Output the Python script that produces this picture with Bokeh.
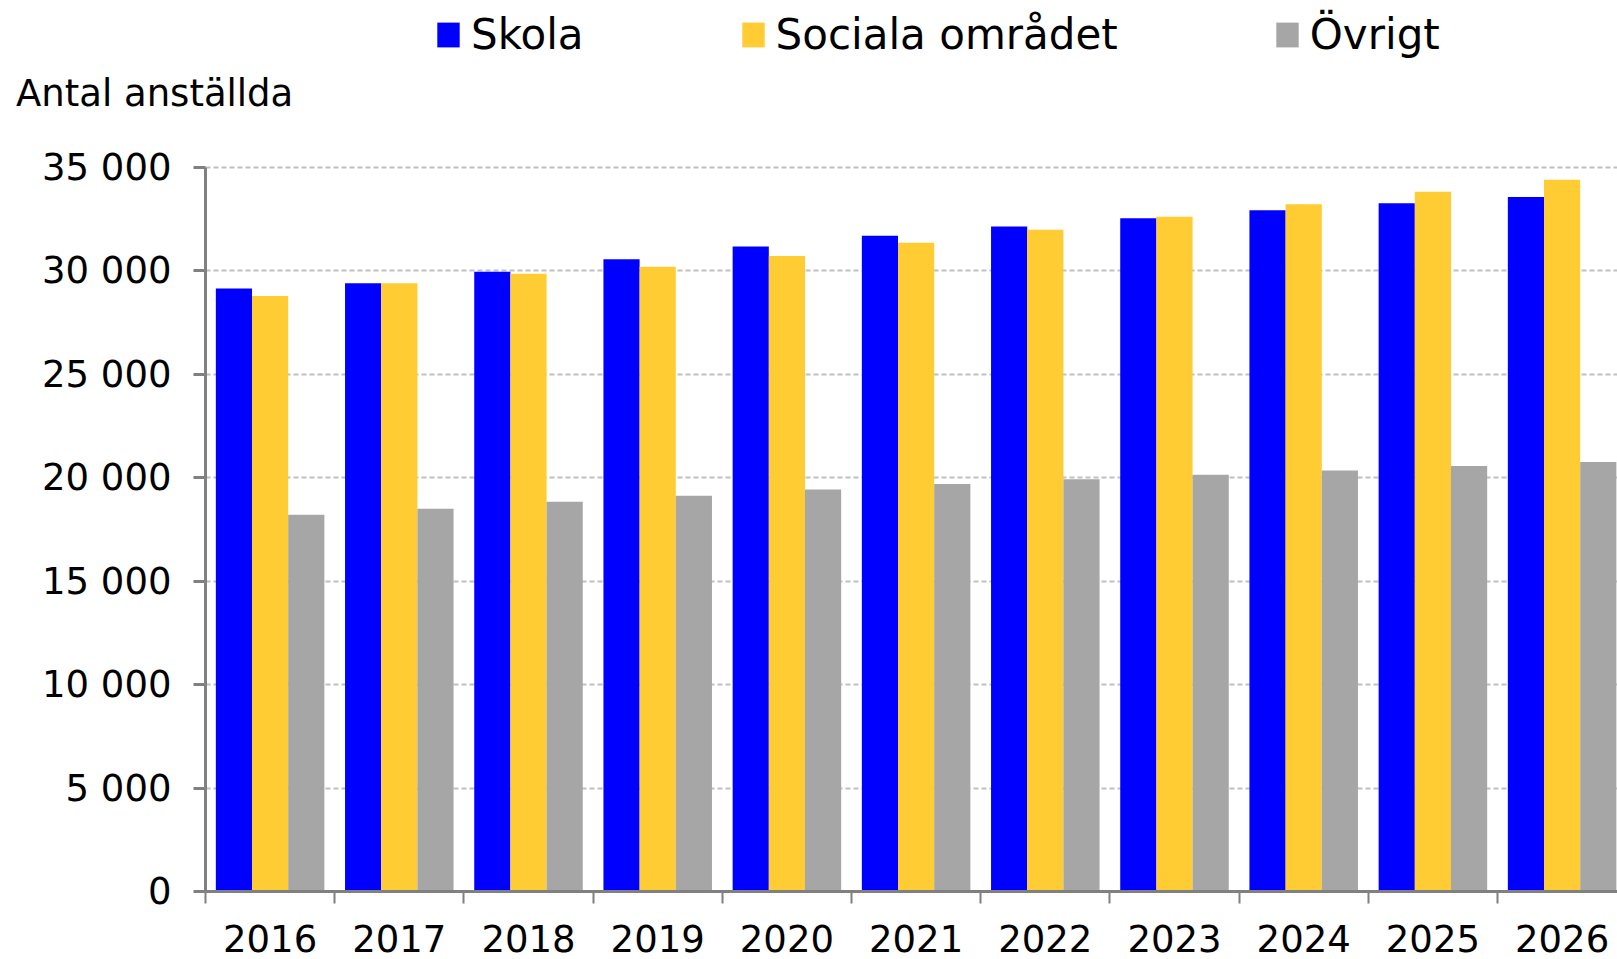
from bokeh.plotting import figure
from bokeh.models import (ColumnDataSource, Range1d, FixedTicker, Legend, LegendItem)
from bokeh.transform import dodge
from bokeh.layouts import column
from bokeh.core.properties import value
from bokeh.embed import file_html
from bokeh.resources import INLINE

years = ["2016", "2017", "2018", "2019", "2020", "2021", "2022", "2023", "2024", "2025", "2026"]
skola = [29150, 29400, 29950, 30560, 31180, 31700, 32140, 32540, 32930, 33270, 33570]
sociala = [28780, 29400, 29860, 30190, 30720, 31350, 31980, 32610, 33220, 33820, 34400]
ovrigt = [18210, 18500, 18840, 19130, 19430, 19690, 19920, 20140, 20350, 20570, 20760]
series_names = ["Skola", "Sociala området", "Övrigt"]
colors = ["#0000FF", "#FFCC33", "#A6A6A6"]
y_ticks = [0, 5000, 10000, 15000, 20000, 25000, 30000, 35000]
y_tick_labels = ["0", "5 000", "10 000", "15 000", "20 000", "25 000", "30 000", "35 000"]
y_title = "Antal anställda"

FONT = "DejaVu Sans"
W, H = 1617, 959
HEAD_H = 130
MAIN_H = H - HEAD_H
left_border, bottom_border = 205, 68
px_per_cat = 129.2
px_per_1000 = 20.69
frame_w = W - left_border
frame_h = MAIN_H - bottom_border
x_end = frame_w / px_per_cat
y_end = frame_h / px_per_1000 * 1000

# ---------------- header: legend + y-axis title ----------------
head = figure(width=W, height=HEAD_H, output_backend="svg", toolbar_location=None,
              x_range=Range1d(0, W), y_range=Range1d(0, HEAD_H),
              x_axis_type=None, y_axis_type=None, title=None,
              min_border=0)
head.outline_line_color = None
head.xgrid.visible = False
head.ygrid.visible = False

# legend swatch renderers (kept outside the visible range)
swatches = []
for col in colors:
    swatches.append(head.vbar(x=[-10000], top=[-10000], bottom=[-10001], width=1,
                              fill_color=col, line_color=None))

legend = Legend(items=[LegendItem(label=n, renderers=[r]) for n, r in zip(series_names, swatches)],
                orientation="horizontal", location=(434, HEAD_H - 58.5),
                glyph_width=28, glyph_height=31, label_standoff=9, spacing=155,
                padding=0, margin=0, border_line_color=None, background_fill_alpha=0,
                label_text_font=FONT, label_text_font_size="42px", label_text_color="#000000")
head.add_layout(legend, "center")

head.text(x=[15.5], y=[HEAD_H - 93], text=[y_title], text_font=value(FONT),
          text_font_size="37px", text_baseline="middle", text_align="left",
          text_color="#000000")

# ---------------- main chart ----------------
centers = [i + 0.5 for i in range(len(years))]
bw = 0.28
src = ColumnDataSource(dict(x=centers, skola=skola, sociala=sociala, ovrigt=ovrigt))

p = figure(width=W, height=MAIN_H, output_backend="svg", toolbar_location=None, title=None,
           x_range=Range1d(0, x_end), y_range=Range1d(0, y_end),
           min_border_left=left_border, min_border_bottom=bottom_border,
           min_border_top=0, min_border_right=0)
p.outline_line_color = None

for i, (key, col) in enumerate(zip(["skola", "sociala", "ovrigt"], colors)):
    p.vbar(x=dodge("x", (i - 1) * bw), top=key, width=bw, source=src,
           fill_color=col, line_color=None)

p.xaxis.ticker = FixedTicker(ticks=centers, minor_ticks=list(range(len(years) + 1)))
p.xaxis.major_label_overrides = {c: y for c, y in zip(centers, years)}
p.xaxis.major_tick_out = 0
p.xaxis.major_tick_in = 0
p.xaxis.minor_tick_out = 12
p.xaxis.minor_tick_in = 0
p.xaxis.minor_tick_line_color = "#808080"
p.xaxis.minor_tick_line_width = 2
p.xaxis.major_label_standoff = 21
p.xaxis.bounds = (0, len(years) + 1)

p.yaxis.ticker = FixedTicker(ticks=y_ticks, minor_ticks=[])
p.yaxis.major_label_overrides = {t: l for t, l in zip(y_ticks, y_tick_labels)}
p.yaxis.major_tick_out = 12
p.yaxis.major_tick_in = 0
p.yaxis.major_tick_line_color = "#808080"
p.yaxis.major_tick_line_width = 3
p.yaxis.major_label_standoff = 22
p.yaxis.bounds = (0, 35000)

for ax in (p.xaxis[0], p.yaxis[0]):
    ax.axis_line_color = "#808080"
    ax.axis_line_width = 3
    ax.major_label_text_font = FONT
    ax.major_label_text_font_size = "37px"
    ax.major_label_text_color = "#000000"

p.xgrid.visible = False
p.ygrid.ticker = FixedTicker(ticks=y_ticks[1:])
p.ygrid.grid_line_color = "#C0C0C0"
p.ygrid.grid_line_width = 2
p.ygrid.grid_line_dash = "5 3"

# keep each figure's own frame (do not align frames across the column)
for fig in (head, p):
    if "frame_align" in fig.properties():
        fig.frame_align = False

layout = column(head, p, spacing=0)
open("out.html", "w").write(file_html(layout, INLINE))
